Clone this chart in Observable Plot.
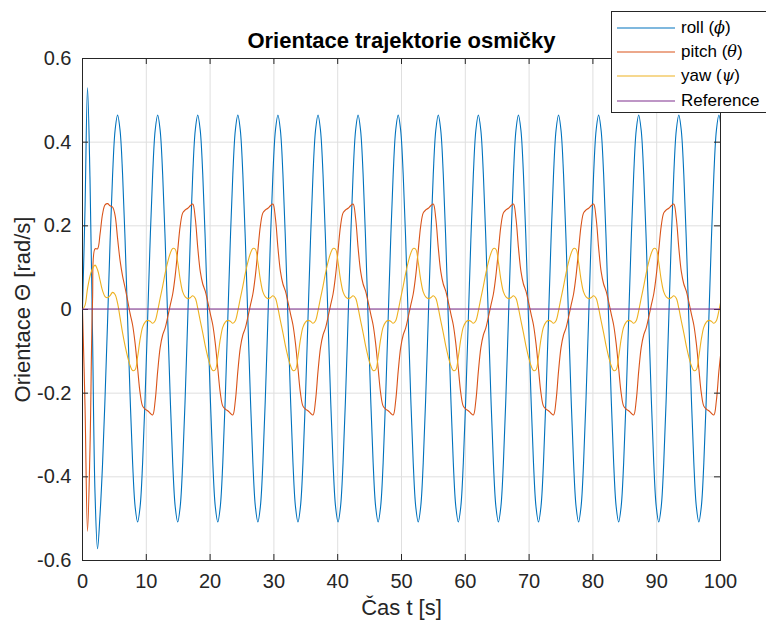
<!DOCTYPE html>
<html lang="cs">
<head>
<meta charset="utf-8">
<script src="https://cdn.jsdelivr.net/npm/d3@7"></script>
<script src="https://cdn.jsdelivr.net/npm/@observablehq/plot@0.6"></script>
<style>
  html, body { margin: 0; padding: 0; background: #fff; overflow: hidden; }
  #wrap { position: relative; width: 766px; height: 620px; font-family: "Liberation Sans", Arial, Helvetica, sans-serif; }
  #legend { position: absolute; left: 611px; top: 11px; width: 170px; height: 102px; box-sizing: border-box;
            border: 1px solid #262626; background: #fff; font-size: 17px; color: #000; }
  #legend .row { position: absolute; left: 0; height: 24px; display: flex; align-items: center; white-space: nowrap; }
  #legend .row svg { margin-left: 5px; margin-right: 6px; }
  #legend .sym { font-family: "DejaVu Serif", "Liberation Serif", serif; font-style: italic; font-size: 16px; }
</style>
</head>
<body>
<div id="wrap">
  <div id="chart"></div>
  <div id="legend"></div>
</div>
<script>
// Orientation of the figure-eight flight, logged every π/8 s (0 … 100 s)
const sampleStep = Math.PI / 8;

// roll φ [rad], 16 samples per row
const rollValues = [
  0, 0.24, 0.53, 0.31, -0.06, -0.44, -0.572, -0.49, -0.37, -0.21, -0.03, 0.16, 0.32, 0.428, 0.465, 0.428,
  0.323, 0.165, -0.022, -0.208, -0.366, -0.471, -0.508, -0.471, -0.366, -0.208, -0.022, 0.165, 0.323, 0.428, 0.465, 0.428,
  0.323, 0.165, -0.022, -0.208, -0.366, -0.471, -0.508, -0.471, -0.366, -0.208, -0.022, 0.165, 0.323, 0.428, 0.465, 0.428,
  0.323, 0.165, -0.022, -0.208, -0.366, -0.471, -0.508, -0.471, -0.366, -0.208, -0.022, 0.165, 0.323, 0.428, 0.465, 0.428,
  0.323, 0.165, -0.022, -0.208, -0.366, -0.471, -0.508, -0.471, -0.366, -0.208, -0.022, 0.165, 0.323, 0.428, 0.465, 0.428,
  0.323, 0.165, -0.022, -0.208, -0.366, -0.471, -0.508, -0.471, -0.366, -0.208, -0.022, 0.165, 0.323, 0.428, 0.465, 0.428,
  0.323, 0.165, -0.022, -0.208, -0.366, -0.471, -0.508, -0.471, -0.366, -0.208, -0.022, 0.165, 0.323, 0.428, 0.465, 0.428,
  0.323, 0.165, -0.022, -0.208, -0.366, -0.471, -0.508, -0.471, -0.366, -0.208, -0.022, 0.165, 0.323, 0.428, 0.465, 0.428,
  0.323, 0.165, -0.022, -0.208, -0.366, -0.471, -0.508, -0.471, -0.366, -0.208, -0.022, 0.165, 0.323, 0.428, 0.465, 0.428,
  0.323, 0.165, -0.022, -0.208, -0.366, -0.471, -0.508, -0.471, -0.366, -0.208, -0.022, 0.165, 0.323, 0.428, 0.465, 0.428,
  0.323, 0.165, -0.022, -0.208, -0.366, -0.471, -0.508, -0.471, -0.366, -0.208, -0.022, 0.165, 0.323, 0.428, 0.465, 0.428,
  0.323, 0.165, -0.022, -0.208, -0.366, -0.471, -0.508, -0.471, -0.366, -0.208, -0.022, 0.165, 0.323, 0.428, 0.465, 0.428,
  0.323, 0.165, -0.022, -0.208, -0.366, -0.471, -0.508, -0.471, -0.366, -0.208, -0.022, 0.165, 0.323, 0.428, 0.465, 0.428,
  0.323, 0.165, -0.022, -0.208, -0.366, -0.471, -0.508, -0.471, -0.366, -0.208, -0.022, 0.165, 0.323, 0.428, 0.465, 0.428,
  0.323, 0.165, -0.022, -0.208, -0.366, -0.471, -0.508, -0.471, -0.366, -0.208, -0.022, 0.165, 0.323, 0.428, 0.465, 0.428,
  0.323, 0.165, -0.022, -0.208, -0.366, -0.471, -0.508, -0.471, -0.366, -0.208, -0.022, 0.165, 0.323, 0.428, 0.465, 0.428
];

// pitch θ [rad], 32 samples per row
const pitchValues = [
  0, -0.23, -0.53, -0.33, 0.02, 0.145, 0.145, 0.18, 0.228, 0.25, 0.253, 0.248, 0.245, 0.225, 0.17, 0.117,
  0.08, 0.052, 0.022, -0.01, -0.037, -0.081, -0.141, -0.2, -0.231, -0.238, -0.242, -0.248, -0.252, -0.218, -0.148, -0.091,
  -0.061, -0.044, -0.018, 0.01, 0.037, 0.081, 0.141, 0.2, 0.231, 0.238, 0.242, 0.248, 0.252, 0.218, 0.148, 0.091,
  0.061, 0.044, 0.018, -0.01, -0.037, -0.081, -0.141, -0.2, -0.231, -0.238, -0.242, -0.248, -0.252, -0.218, -0.148, -0.091,
  -0.061, -0.044, -0.018, 0.01, 0.037, 0.081, 0.141, 0.2, 0.231, 0.238, 0.242, 0.248, 0.252, 0.218, 0.148, 0.091,
  0.061, 0.044, 0.018, -0.01, -0.037, -0.081, -0.141, -0.2, -0.231, -0.238, -0.242, -0.248, -0.252, -0.218, -0.148, -0.091,
  -0.061, -0.044, -0.018, 0.01, 0.037, 0.081, 0.141, 0.2, 0.231, 0.238, 0.242, 0.248, 0.252, 0.218, 0.148, 0.091,
  0.061, 0.044, 0.018, -0.01, -0.037, -0.081, -0.141, -0.2, -0.231, -0.238, -0.242, -0.248, -0.252, -0.218, -0.148, -0.091,
  -0.061, -0.044, -0.018, 0.01, 0.037, 0.081, 0.141, 0.2, 0.231, 0.238, 0.242, 0.248, 0.252, 0.218, 0.148, 0.091,
  0.061, 0.044, 0.018, -0.01, -0.037, -0.081, -0.141, -0.2, -0.231, -0.238, -0.242, -0.248, -0.252, -0.218, -0.148, -0.091,
  -0.061, -0.044, -0.018, 0.01, 0.037, 0.081, 0.141, 0.2, 0.231, 0.238, 0.242, 0.248, 0.252, 0.218, 0.148, 0.091,
  0.061, 0.044, 0.018, -0.01, -0.037, -0.081, -0.141, -0.2, -0.231, -0.238, -0.242, -0.248, -0.252, -0.218, -0.148, -0.091,
  -0.061, -0.044, -0.018, 0.01, 0.037, 0.081, 0.141, 0.2, 0.231, 0.238, 0.242, 0.248, 0.252, 0.218, 0.148, 0.091,
  0.061, 0.044, 0.018, -0.01, -0.037, -0.081, -0.141, -0.2, -0.231, -0.238, -0.242, -0.248, -0.252, -0.218, -0.148, -0.091,
  -0.061, -0.044, -0.018, 0.01, 0.037, 0.081, 0.141, 0.2, 0.231, 0.238, 0.242, 0.248, 0.252, 0.218, 0.148, 0.091,
  0.061, 0.044, 0.018, -0.01, -0.037, -0.081, -0.141, -0.2, -0.231, -0.238, -0.242, -0.248, -0.252, -0.218, -0.148, -0.091
];

// yaw ψ [rad], 32 samples per row
const yawValues = [
  0, 0.01, 0.05, 0.08, 0.098, 0.106, 0.095, 0.07, 0.045, 0.031, 0.028, 0.033, 0.041, 0.036, 0.015, -0.02,
  -0.056, -0.087, -0.113, -0.134, -0.146, -0.144, -0.113, -0.071, -0.042, -0.03, -0.026, -0.028, -0.033, -0.027, -0.003, 0.027,
  0.056, 0.087, 0.113, 0.134, 0.146, 0.144, 0.113, 0.071, 0.042, 0.03, 0.026, 0.028, 0.033, 0.027, 0.003, -0.027,
  -0.056, -0.087, -0.113, -0.134, -0.146, -0.144, -0.113, -0.071, -0.042, -0.03, -0.026, -0.028, -0.033, -0.027, -0.003, 0.027,
  0.056, 0.087, 0.113, 0.134, 0.146, 0.144, 0.113, 0.071, 0.042, 0.03, 0.026, 0.028, 0.033, 0.027, 0.003, -0.027,
  -0.056, -0.087, -0.113, -0.134, -0.146, -0.144, -0.113, -0.071, -0.042, -0.03, -0.026, -0.028, -0.033, -0.027, -0.003, 0.027,
  0.056, 0.087, 0.113, 0.134, 0.146, 0.144, 0.113, 0.071, 0.042, 0.03, 0.026, 0.028, 0.033, 0.027, 0.003, -0.027,
  -0.056, -0.087, -0.113, -0.134, -0.146, -0.144, -0.113, -0.071, -0.042, -0.03, -0.026, -0.028, -0.033, -0.027, -0.003, 0.027,
  0.056, 0.087, 0.113, 0.134, 0.146, 0.144, 0.113, 0.071, 0.042, 0.03, 0.026, 0.028, 0.033, 0.027, 0.003, -0.027,
  -0.056, -0.087, -0.113, -0.134, -0.146, -0.144, -0.113, -0.071, -0.042, -0.03, -0.026, -0.028, -0.033, -0.027, -0.003, 0.027,
  0.056, 0.087, 0.113, 0.134, 0.146, 0.144, 0.113, 0.071, 0.042, 0.03, 0.026, 0.028, 0.033, 0.027, 0.003, -0.027,
  -0.056, -0.087, -0.113, -0.134, -0.146, -0.144, -0.113, -0.071, -0.042, -0.03, -0.026, -0.028, -0.033, -0.027, -0.003, 0.027,
  0.056, 0.087, 0.113, 0.134, 0.146, 0.144, 0.113, 0.071, 0.042, 0.03, 0.026, 0.028, 0.033, 0.027, 0.003, -0.027,
  -0.056, -0.087, -0.113, -0.134, -0.146, -0.144, -0.113, -0.071, -0.042, -0.03, -0.026, -0.028, -0.033, -0.027, -0.003, 0.027,
  0.056, 0.087, 0.113, 0.134, 0.146, 0.144, 0.113, 0.071, 0.042, 0.03, 0.026, 0.028, 0.033, 0.027, 0.003, -0.027,
  -0.056, -0.087, -0.113, -0.134, -0.146, -0.144, -0.113, -0.071, -0.042, -0.03, -0.026, -0.028, -0.033, -0.027, -0.003, 0.027
];

// reference orientation (constant zero)
const referenceTimes = [0, 100];
const referenceValues = [0, 0];

const seriesNames = ["roll", "pitch", "yaw", "Reference"];
const seriesLabels = ["roll (<span class='sym'>ϕ</span>)", "pitch (<span class='sym'>θ</span>)", "yaw (<span class='sym'>ψ</span>)", "Reference"];
const seriesColors = ["#0072BD", "#D95319", "#EDB120", "#7E2F8E"];

const xTicks = [0, 10, 20, 30, 40, 50, 60, 70, 80, 90, 100];
const yTicks = [-0.6, -0.4, -0.2, 0, 0.2, 0.4, 0.6];

const titleText = "Orientace trajektorie osmičky";
const xLabel = "Čas t [s]";
const yLabel = "Orientace Θ [rad/s]";

// long table of the three measured signals
const measured = [rollValues, pitchValues, yawValues].flatMap((vals, k) =>
  vals.map((v, i) => ({t: i * sampleStep, v, s: seriesNames[k]})));
const reference = referenceTimes.map((t, i) => ({t, v: referenceValues[i], s: "Reference"}));

const W = 766, H = 620, mL = 82, mR = 46, mT = 58, mB = 60;
const innerW = W - mL - mR, innerH = H - mT - mB;
const tickLen = 6;
const ink = "#262626";

const chart = Plot.plot({
  width: W, height: H,
  marginLeft: mL, marginRight: mR, marginTop: mT, marginBottom: mB,
  style: {fontFamily: "'Liberation Sans', Arial, Helvetica, sans-serif", fontSize: "20px", color: ink, background: "#fff"},
  x: {domain: [0, 100]},
  y: {domain: [-0.6, 0.6]},
  color: {domain: seriesNames, range: seriesColors},
  marks: [
    Plot.gridX(xTicks, {stroke: "#dfdfdf", strokeOpacity: 1}),
    Plot.gridY(yTicks, {stroke: "#dfdfdf", strokeOpacity: 1}),
    ...seriesNames.slice(0, 3).map(name =>
      Plot.line(measured.filter(d => d.s === name), {x: "t", y: "v", stroke: "s", strokeWidth: 1.1, curve: "catmull-rom", clip: true})),
    Plot.frame({stroke: ink, strokeWidth: 1}),
    // inward ticks on all four sides
    Plot.tickX(xTicks, {x: d => d, stroke: ink, insetTop: innerH - tickLen}),
    Plot.tickX(xTicks, {x: d => d, stroke: ink, insetBottom: innerH - tickLen}),
    Plot.ruleY(yTicks, {y: d => d, x1: 0, x2: tickLen * 100 / innerW, stroke: ink}),
    Plot.ruleY(yTicks, {y: d => d, x1: 100 - tickLen * 100 / innerW, x2: 100, stroke: ink}),
    Plot.line(reference, {x: "t", y: "v", stroke: "s", strokeWidth: 1.2, dy: -0.5, clip: true}),
    Plot.axisX(xTicks, {tickSize: 0, tickPadding: 13, label: null, fill: ink}),
    Plot.axisY(yTicks, {tickSize: 0, tickPadding: 11, label: null, fill: ink,
      tickFormat: d => d === 0 ? "0" : d.toFixed(1)}),
    Plot.text([titleText], {frameAnchor: "top", dy: -11, lineAnchor: "bottom", fontSize: 22, fontWeight: "bold", fill: "#000"}),
    Plot.text([xLabel], {frameAnchor: "bottom", dy: 47, lineAnchor: "middle", fontSize: 22, fill: ink}),
    Plot.text([yLabel], {frameAnchor: "left", dx: -60, rotate: -90, textAnchor: "middle", lineAnchor: "middle", fontSize: 22, fill: ink})
  ]
});
document.getElementById("chart").appendChild(chart);

// legend box in the upper right corner
const legend = document.getElementById("legend");
seriesNames.forEach((name, i) => {
  const row = document.createElement("div");
  row.className = "row";
  row.style.top = (4 + i * 24.2) + "px";
  row.innerHTML = `<svg width="58" height="4"><line x1="0" x2="58" y1="2" y2="2" stroke="${seriesColors[i]}" stroke-width="1.1"/></svg><span>${seriesLabels[i]}</span>`;
  legend.appendChild(row);
});
</script>
</body>
</html>
